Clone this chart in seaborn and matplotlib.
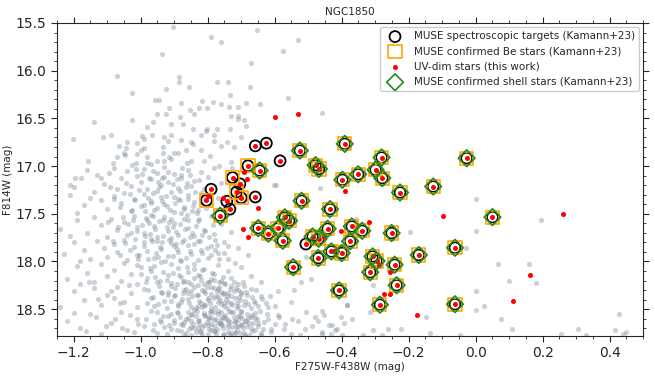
import matplotlib
matplotlib.use("Agg")
import matplotlib.pyplot as plt
import seaborn as sns
from matplotlib.ticker import MultipleLocator

# background cluster stars (F275W-F438W, F814W)
gray_color = [
    -0.905, -0.791, -0.761, -0.652, -0.532, -0.574, -0.937, -0.670, -1.070, -0.886,
    -0.887, -0.771, -0.738, -0.856, -0.926, -0.674, -1.027, -0.735, -0.560, -0.958,
    -0.945, -0.881, -0.816, -0.784, -0.761, -0.687, -0.644, -0.916, -0.854, -0.826,
    -0.801, -0.736, -0.711, -0.458, -0.952, -0.925, -0.841, -0.884, -0.731, -0.711,
    -0.710, -1.027, -1.139, -0.962, -0.910, -0.873, -0.692, -0.687, -0.982, -0.844,
    -0.801, -0.771, -0.735, -0.806, -1.090, -1.114, -0.965, -0.910, -0.930, -0.881,
    -0.821, -0.781, -0.701, -1.203, -0.995, -0.990, -1.040, -1.065, -1.010, -0.920,
    -0.851, -0.843, -0.781, -0.761, -0.741, -0.721, -1.045, -1.050, -1.000, -0.990,
    -0.935, -0.933, -0.890, -0.901, -0.866, -1.070, -1.047, -1.010, -0.980, -0.916,
    -0.910, -0.821, -0.793, -0.731, -1.156, -1.084, -1.027, -1.015, -0.982, -0.970,
    -0.950, -0.930, -0.861, -0.851, -0.811, -0.766, -0.729, -0.597, -1.212, -1.197,
    -1.179, -1.119, -1.095,
    # 17.0 - 17.25
    -1.16, -1.13, -1.08, -1.06, -1.04, -1.01, -0.99, -0.97, -0.95, -0.93,
    -0.92, -0.90, -0.88, -0.86, -0.84, -0.82, -0.80, -0.78, -0.76, -1.20,
    -1.11, -1.03, -0.98, -0.94, -0.89, -0.85, -0.81, -1.07,
    # 17.25 - 17.5
    -1.21, -1.17, -1.14, -1.12, -1.10, -1.08, -1.06, -1.05, -1.03, -1.02,
    -1.00, -0.99, -0.97, -0.96, -0.94, -0.93, -0.91, -0.90, -0.89, -0.87,
    -0.86, -0.84, -0.83, -0.82, -0.79, -0.77, -1.19, -1.15, -0.95, -0.88,
    # 17.5 - 17.75
    -1.24, -1.19, -1.16, -1.14, -1.12, -1.10, -1.09, -1.07, -1.05, -1.04,
    -1.02, -1.01, -0.99, -0.98, -0.96, -0.95, -0.93, -0.92, -0.90, -0.89,
    -0.87, -0.86, -0.84, -0.83, -0.81, -0.79, -0.78, -0.76, -0.73, -1.21,
    -0.97, -0.91,
    # 17.75 - 18.0
    -1.23, -1.20, -1.17, -1.15, -1.13, -1.11, -1.10, -1.08, -1.07, -1.05,
    -1.04, -1.02, -1.01, -0.99, -0.98, -0.96, -0.95, -0.94, -0.92, -0.91,
    -0.89, -0.88, -0.86, -0.85, -0.83, -0.82, -0.80, -0.79, -0.77, -0.75,
    -0.74, -0.71, -0.68, -1.18, -0.97, -0.90,
    # 18.0 - 18.25
    -1.22, -1.19, -1.16, -1.14, -1.12, -1.10, -1.08, -1.06, -1.05, -1.03,
    -1.01, -1.00, -0.98, -0.97, -0.95, -0.94, -0.92, -0.91, -0.89, -0.88,
    -0.86, -0.85, -0.84, -0.82, -0.81, -0.80, -0.78, -0.77, -0.76, -0.74,
    -0.73, -0.71, -0.70, -0.67, -0.64, -1.18, -0.96, -0.87, -0.83, -0.79,
    -0.75, -0.72,
    # 18.25 - 18.5
    -1.24, -1.20, -1.17, -1.14, -1.12, -1.10, -1.07, -1.05, -1.03, -1.01,
    -0.99, -0.97, -0.96, -0.94, -0.93, -0.91, -0.90, -0.89, -0.87, -0.86,
    -0.85, -0.84, -0.83, -0.82, -0.81, -0.80, -0.79, -0.78, -0.77, -0.76,
    -0.75, -0.74, -0.73, -0.72, -0.71, -0.70, -0.69, -0.67, -0.66, -0.64,
    -0.62, -0.59, -0.55, -0.81, -0.79, -0.77, -0.75, -0.73, -0.71, -0.83,
    -0.86, -0.88, -0.92, -0.98, -1.08,
    # 18.5 - 18.78
    -1.22, -1.18, -1.15, -1.12, -1.09, -1.06, -1.04, -1.01, -0.99, -0.97,
    -0.95, -0.94, -0.92, -0.91, -0.89, -0.88, -0.87, -0.86, -0.85, -0.84,
    -0.83, -0.82, -0.81, -0.80, -0.79, -0.78, -0.78, -0.77, -0.76, -0.75,
    -0.75, -0.74, -0.73, -0.72, -0.72, -0.71, -0.70, -0.69, -0.68, -0.67,
    -0.66, -0.65, -0.64, -0.62, -0.61, -0.59, -0.57, -0.55, -0.53, -0.51,
    -0.48, -0.46, -0.43, -0.40, -0.80, -0.79, -0.77, -0.76, -0.74, -0.73,
    -0.71, -0.70, -0.69, -0.67, -0.83, -0.85, -0.88, -0.90, -0.96, -1.02,
    # sparse, red side
    0.000, 0.194, 0.000, -0.196, -0.028, 0.067, 0.159, 0.098, 0.181, -0.308,
    0.000, -0.385, 0.000, 0.025, -0.148, -0.403, -0.368, -0.393, -0.458, -0.438,
    0.075, 0.107, -0.261, -0.222, -0.307, -0.415, -0.137, -0.047, -0.335, -0.279,
    -0.433, -0.458, 0.254, 0.305, 0.328, 0.416, 0.428, 0.441, 0.448, -0.316,
    -0.465, -0.358, -0.602, -0.507, -0.493, -0.522, -0.542, -0.383,
]
gray_mag = [
    15.54, 15.65, 15.70, 15.57, 15.68, 15.79, 15.82, 15.92, 16.06, 16.07,
    16.12, 16.12, 16.12, 16.17, 16.19, 16.17, 16.23, 16.25, 16.29, 16.31,
    16.31, 16.34, 16.32, 16.33, 16.35, 16.34, 16.35, 16.39, 16.41, 16.39,
    16.39, 16.38, 16.38, 16.44, 16.45, 16.45, 16.45, 16.49, 16.48, 16.47,
    16.51, 16.52, 16.54, 16.54, 16.56, 16.56, 16.52, 16.58, 16.59, 16.61,
    16.61, 16.61, 16.61, 16.63, 16.67, 16.70, 16.67, 16.67, 16.69, 16.73,
    16.67, 16.67, 16.69, 16.72, 16.68, 16.72, 16.75, 16.79, 16.76, 16.74,
    16.75, 16.77, 16.74, 16.79, 16.75, 16.80, 16.81, 16.86, 16.83, 16.81,
    16.80, 16.86, 16.86, 16.86, 16.83, 16.90, 16.88, 16.87, 16.90, 16.90,
    16.93, 16.83, 16.89, 16.96, 16.95, 16.97, 16.99, 16.97, 16.97, 16.98,
    16.95, 16.95, 16.97, 16.95, 16.95, 17.00, 17.02, 17.20, 17.20, 17.13,
    17.13, 17.13, 17.07,
    17.04, 17.09, 17.02, 17.12, 17.05, 17.10, 17.03, 17.14, 17.07, 17.01,
    17.17, 17.08, 17.12, 17.04, 17.16, 17.06, 17.11, 17.02, 17.18, 17.22,
    17.19, 17.21, 17.24, 17.20, 17.23, 17.21, 17.24, 17.24,
    17.30, 17.41, 17.27, 17.36, 17.45, 17.31, 17.39, 17.28, 17.47, 17.34,
    17.42, 17.29, 17.37, 17.46, 17.32, 17.40, 17.27, 17.48, 17.35, 17.43,
    17.30, 17.38, 17.46, 17.28, 17.41, 17.33, 17.49, 17.33, 17.26, 17.49,
    17.66, 17.57, 17.70, 17.53, 17.62, 17.74, 17.55, 17.67, 17.59, 17.72,
    17.52, 17.64, 17.70, 17.56, 17.63, 17.74, 17.53, 17.68, 17.60, 17.72,
    17.55, 17.65, 17.73, 17.58, 17.67, 17.52, 17.71, 17.61, 17.69, 17.73,
    17.51, 17.75,
    17.92, 17.80, 17.88, 17.97, 17.79, 17.86, 17.95, 17.82, 17.90, 17.77,
    17.98, 17.85, 17.93, 17.80, 17.89, 17.96, 17.78, 17.87, 17.94, 17.81,
    17.90, 17.99, 17.83, 17.92, 17.78, 17.88, 17.96, 17.84, 17.91, 17.80,
    17.97, 17.86, 17.93, 17.99, 17.76, 17.84,
    18.18, 18.05, 18.12, 18.22, 18.03, 18.15, 18.09, 18.20, 18.02, 18.13,
    18.24, 18.06, 18.17, 18.10, 18.21, 18.01, 18.14, 18.23, 18.07, 18.16,
    18.11, 18.24, 18.03, 18.19, 18.08, 18.22, 18.13, 18.04, 18.20, 18.10,
    18.17, 18.24, 18.06, 18.15, 18.22, 18.24, 18.05, 18.20, 18.14, 18.18,
    18.23, 18.02,
    18.48, 18.31, 18.40, 18.28, 18.46, 18.35, 18.27, 18.42, 18.33, 18.48,
    18.29, 18.38, 18.47, 18.32, 18.41, 18.26, 18.36, 18.45, 18.30, 18.39,
    18.48, 18.27, 18.35, 18.43, 18.31, 18.40, 18.49, 18.28, 18.37, 18.45,
    18.33, 18.42, 18.26, 18.38, 18.47, 18.32, 18.41, 18.29, 18.44, 18.36,
    18.48, 18.31, 18.42, 18.46, 18.34, 18.29, 18.44, 18.36, 18.30, 18.47,
    18.33, 18.42, 18.35, 18.44, 18.38,
    18.62, 18.70, 18.55, 18.76, 18.64, 18.53, 18.72, 18.60, 18.68, 18.52,
    18.75, 18.63, 18.57, 18.71, 18.54, 18.66, 18.77, 18.59, 18.69, 18.51,
    18.62, 18.74, 18.56, 18.67, 18.52, 18.61, 18.73, 18.55, 18.65, 18.76,
    18.58, 18.69, 18.53, 18.63, 18.74, 18.57, 18.67, 18.77, 18.59, 18.70,
    18.54, 18.64, 18.75, 18.60, 18.71, 18.56, 18.66, 18.76, 18.62, 18.71,
    18.58, 18.74, 18.67, 18.77, 18.58, 18.72, 18.64, 18.53, 18.61, 18.75,
    18.68, 18.52, 18.62, 18.58, 18.70, 18.56, 18.73, 18.61, 18.66, 18.74,
    17.34, 17.57, 17.68, 17.69, 17.86, 18.03, 18.03, 18.20, 18.23, 18.25,
    18.31, 18.46, 18.51, 18.47, 18.58, 18.58, 18.60, 18.64, 18.52, 18.67,
    18.60, 18.71, 18.71, 18.71, 18.72, 18.71, 18.75, 18.77, 18.77, 18.77,
    18.76, 18.76, 18.76, 18.71, 18.77, 18.72, 18.55, 18.76, 18.74, 18.53,
    17.23, 17.55, 17.20, 17.95, 18.18, 18.22, 18.30, 18.46,
]

# crowded main-sequence ridge, where the grey dots pile up
ridge_color = [
    -1.015, -0.995, -0.975, -0.962, -0.948, -0.931, -0.918, -0.905, -0.893, -0.878,
    -0.866, -0.852, -0.838, -0.826, -0.811, -1.032, -1.018, -1.005, -0.991, -0.978,
    -0.963, -0.951, -0.937, -0.924, -0.912, -0.897, -0.884, -0.871, -0.858, -0.843,
    -0.831, -0.818, -0.805, -0.792, -1.045, -1.061, -1.079, -1.093, -0.986, -0.944,
    -0.902, -0.861, -0.921, -0.969, -1.026, -0.882, -0.848, -0.937, -0.999, -0.879,
    -1.052, -1.038, -1.024, -1.011, -0.997, -0.983, -0.972, -0.958, -0.946, -0.934,
    -0.921, -0.909, -0.896, -0.884, -0.871, -0.859, -0.846, -0.834, -0.822, -0.809,
    -0.797, -0.784, -0.771, -1.046, -1.031, -1.017, -1.004, -0.991, -0.978, -0.966,
    -0.953, -0.941, -0.928, -0.916, -0.903, -0.891, -0.878, -0.866, -0.853, -0.841,
    -0.828, -0.816, -0.803, -0.791, -0.778, -0.765, -0.752, -0.738, -1.068, -1.083,
    -1.097, -1.061, -0.962, -0.915, -0.869, -0.825, -0.938, -0.896, -0.852, -0.987,
    -1.009, -0.947, -0.884, -0.817, -0.779, -0.905, -0.975, -1.028, -0.861, -0.933,
    -1.012, -0.998, -0.984, -0.971, -0.958, -0.946, -0.933, -0.921, -0.909, -0.897,
    -0.885, -0.874, -0.862, -0.851, -0.840, -0.829, -0.818, -0.807, -0.797, -0.786,
    -0.776, -0.765, -0.755, -0.744, -0.734, -0.723, -0.713, -0.702, -0.691, -0.680,
    -0.669, -0.657, -0.962, -0.949, -0.936, -0.923, -0.911, -0.899, -0.888, -0.876,
    -0.866, -0.856, -0.846, -0.836, -0.826, -0.817, -0.807, -0.798, -0.789, -0.779,
    -0.770, -0.760, -0.751, -0.742, -0.732, -0.722, -0.712, -0.703, -0.693, -0.683,
    -0.672, -0.662, -0.651, -0.639, -0.627, -0.613, -0.598, -0.842, -0.831, -0.812,
    -0.793, -0.781, -0.772, -0.763, -0.748, -0.738, -0.727, -0.717, -0.708, -0.696,
    -0.686, -0.823, -0.859, -0.875, -0.891, -0.903, -0.918, -0.942, -0.979, -1.036,
    -1.062, -1.089, -1.127, -1.153, -0.818, -0.785, -0.753, -0.741, -0.802, -0.767,
    -0.952, -0.941, -0.931, -0.921, -0.911, -0.902, -0.893, -0.884, -0.875, -0.866,
    -0.858, -0.850, -0.842, -0.834, -0.826, -0.818, -0.811, -0.803, -0.796, -0.789,
    -0.782, -0.775, -0.768, -0.761, -0.754, -0.747, -0.740, -0.733, -0.726, -0.719,
    -0.712, -0.705, -0.698, -0.691, -0.684, -0.676, -0.668, -0.660, -0.651, -0.642,
    -0.633, -0.623, -0.612, -0.600, -0.587, -0.572, -0.866, -0.857, -0.846, -0.836,
    -0.827, -0.817, -0.808, -0.799, -0.790, -0.781, -0.772, -0.764, -0.755, -0.746,
    -0.737, -0.729, -0.720, -0.711, -0.702, -0.694, -0.686, -0.677, -0.669, -0.660,
    -0.652, -0.643, -0.635, -0.797, -0.778, -0.758, -0.739, -0.721, -0.703, -0.683,
    -0.812, -0.832, -0.851, -0.872, -0.893, -0.915, -0.935, -0.962, -0.983, -1.008,
    -1.031, -1.055, -1.078, -1.104, -1.135, -1.162, -1.198, -0.548, -0.525, -0.506,
    -0.489, -0.472, -0.452, -0.419, -0.735, -0.716, -0.757, -0.776, -0.793, -0.823,
    -0.845, -0.697, -0.664,
]
ridge_mag = [
    17.03, 17.08, 17.12, 17.05, 17.17, 17.11, 17.06, 17.19, 17.14, 17.02,
    17.22, 17.09, 17.27, 17.15, 17.31, 17.29, 17.36, 17.25, 17.41, 17.33,
    17.28, 17.44, 17.37, 17.31, 17.46, 17.39, 17.26, 17.45, 17.34, 17.42,
    17.49, 17.37, 17.44, 17.29, 17.18, 17.43, 17.35, 17.22, 17.47, 17.22,
    17.32, 17.18, 17.42, 17.39, 17.46, 17.36, 17.47, 17.13, 17.17, 17.09,
    17.53, 17.61, 17.57, 17.68, 17.62, 17.54, 17.71, 17.66, 17.58, 17.73,
    17.64, 17.55, 17.69, 17.61, 17.77, 17.57, 17.70, 17.63, 17.79, 17.68,
    17.74, 17.62, 17.83, 17.81, 17.88, 17.76, 17.93, 17.84, 17.97, 17.79,
    17.91, 17.85, 17.99, 17.77, 17.94, 17.87, 17.80, 17.96, 17.89, 17.82,
    17.98, 17.91, 17.86, 17.93, 17.88, 17.97, 17.91, 17.84, 17.64, 17.78,
    17.59, 17.93, 17.52, 17.59, 17.66, 17.55, 17.80, 17.82, 17.74, 17.73,
    17.97, 17.95, 17.98, 17.72, 17.77, 17.64, 17.60, 17.70, 17.51, 17.56,
    18.04, 18.13, 18.21, 18.07, 18.16, 18.26, 18.11, 18.19, 18.03, 18.28,
    18.14, 18.22, 18.06, 18.31, 18.17, 18.25, 18.09, 18.33, 18.21, 18.12,
    18.36, 18.27, 18.16, 18.39, 18.29, 18.21, 18.43, 18.34, 18.26, 18.45,
    18.37, 18.30, 18.37, 18.45, 18.33, 18.49, 18.41, 18.35, 18.47, 18.39,
    18.29, 18.44, 18.36, 18.49, 18.41, 18.30, 18.46, 18.38, 18.27, 18.48,
    18.42, 18.32, 18.47, 18.36, 18.44, 18.31, 18.49, 18.40, 18.46, 18.35,
    18.49, 18.41, 18.47, 18.39, 18.44, 18.36, 18.47, 18.08, 18.35, 18.24,
    18.44, 18.19, 18.31, 18.40, 18.24, 18.33, 18.46, 18.28, 18.37, 18.21,
    18.32, 18.15, 18.22, 18.33, 18.24, 18.12, 18.32, 18.20, 18.30, 18.25,
    18.44, 18.31, 18.39, 18.21, 18.48, 18.38, 18.34, 18.49, 18.27, 18.22,
    18.53, 18.61, 18.69, 18.76, 18.55, 18.64, 18.72, 18.58, 18.67, 18.75,
    18.53, 18.62, 18.70, 18.57, 18.66, 18.77, 18.54, 18.63, 18.71, 18.58,
    18.68, 18.76, 18.52, 18.61, 18.70, 18.56, 18.65, 18.77, 18.53, 18.62,
    18.72, 18.57, 18.66, 18.75, 18.55, 18.64, 18.73, 18.59, 18.68, 18.77,
    18.63, 18.55, 18.74, 18.66, 18.58, 18.71, 18.60, 18.71, 18.55, 18.74,
    18.61, 18.69, 18.57, 18.76, 18.65, 18.53, 18.71, 18.64, 18.77, 18.60,
    18.52, 18.69, 18.76, 18.61, 18.53, 18.70, 18.62, 18.77, 18.56, 18.72,
    18.60, 18.52, 18.71, 18.60, 18.73, 18.58, 18.74, 18.58, 18.75, 18.68,
    18.67, 18.52, 18.77, 18.63, 18.53, 18.67, 18.57, 18.72, 18.60, 18.66,
    18.56, 18.70, 18.60, 18.68, 18.58, 18.73, 18.54, 18.60, 18.77, 18.53,
    18.68, 18.62, 18.56, 18.72, 18.63, 18.68, 18.67, 18.60, 18.53, 18.73,
    18.66, 18.59, 18.64,
]

# MUSE confirmed shell stars (Kamann+23)
shell_color = [
    -0.645, -0.525, -0.478, -0.468, -0.391, -0.398, -0.351, -0.281, -0.299, -0.279,
    -0.226, -0.127, -0.027, 0.050, -0.763, -0.649, -0.619, -0.590, -0.570, -0.557,
    -0.520, -0.435, -0.576, -0.487, -0.469, -0.442, -0.370, -0.339, -0.375, -0.470,
    -0.431, -0.400, -0.545, -0.408, -0.251, -0.170, -0.062, -0.308, -0.296, -0.315,
    -0.242, -0.236, -0.286, -0.062,
]
shell_mag = [
    17.047, 16.837, 16.990, 17.030, 16.767, 17.144, 17.086, 16.910, 17.039, 17.126,
    17.277, 17.214, 16.917, 17.535, 17.521, 17.650, 17.708, 17.652, 17.537, 17.573,
    17.364, 17.451, 17.783, 17.738, 17.762, 17.657, 17.633, 17.678, 17.788, 17.964,
    17.895, 17.911, 18.060, 18.303, 17.702, 17.932, 17.856, 17.947, 17.995, 18.113,
    18.034, 18.249, 18.453, 18.448,
]

# MUSE confirmed Be stars without shell features
be_color = [-0.680, -0.726, -0.714, -0.700, -0.804]
be_mag = [16.997, 17.120, 17.272, 17.332, 17.359]

# remaining MUSE spectroscopic targets
target_color = [-0.658, -0.625, -0.584, -0.790, -0.704, -0.658, -0.743, -0.734, -0.507]
target_mag = [16.788, 16.760, 16.945, 17.243, 17.186, 17.324, 17.369, 17.451, 17.817]

# UV-dim stars only found in this work
uvdim_color = [
    -0.600, -0.532, -0.693, -0.684, -0.799, -0.754, -0.651, -0.694, -0.679, -0.390,
    -0.453, -0.403, -0.423, -0.320, -0.099, -0.288, -0.256, -0.274, -0.257, -0.175,
    0.162, 0.111, 0.262,
]
uvdim_mag = [
    16.487, 16.453, 17.065, 17.136, 17.312, 17.338, 17.437, 17.657, 17.748, 17.256,
    17.739, 17.678, 17.895, 17.587, 17.518, 18.034, 18.115, 18.338, 18.338, 18.563,
    18.142, 18.411, 17.507,
]

bg_color = gray_color + ridge_color
bg_mag = gray_mag + ridge_mag
muse_color = shell_color + be_color + target_color
muse_mag = shell_mag + be_mag + target_mag
bes_color = shell_color + be_color
bes_mag = shell_mag + be_mag
red_color = muse_color + uvdim_color
red_mag = muse_mag + uvdim_mag

sns.set_style("ticks")
plt.rcParams["font.family"] = ["DejaVu Sans"]

fig = plt.figure(figsize=(6.55, 3.77), dpi=100)
ax = fig.add_axes([0.087, 0.109, 0.895, 0.830])

sns.scatterplot(x=bg_color, y=bg_mag, ax=ax, color="slategray", alpha=0.36,
                s=14, linewidth=0, zorder=1)
sns.scatterplot(x=muse_color, y=muse_mag, ax=ax, marker="o", s=62, facecolor="none",
                edgecolor="black", linewidth=1.3, zorder=2,
                label="MUSE spectroscopic targets (Kamann+23)")
sns.scatterplot(x=bes_color, y=bes_mag, ax=ax, marker="s", s=90, facecolor="none",
                edgecolor="orange", linewidth=1.2, zorder=3,
                label="MUSE confirmed Be stars (Kamann+23)")
sns.scatterplot(x=red_color, y=red_mag, ax=ax, color="red", s=13, linewidth=0,
                zorder=4, label="UV-dim stars (this work)")
sns.scatterplot(x=shell_color, y=shell_mag, ax=ax, marker="D", s=72, facecolor="none",
                edgecolor="forestgreen", linewidth=1.2, zorder=5,
                label="MUSE confirmed shell stars (Kamann+23)")

ax.set_xlim(-1.25, 0.5)
ax.set_ylim(18.78, 15.5)
ax.xaxis.set_major_locator(MultipleLocator(0.2))
ax.xaxis.set_minor_locator(MultipleLocator(0.05))
ax.yaxis.set_major_locator(MultipleLocator(0.5))
ax.yaxis.set_minor_locator(MultipleLocator(0.1))
ax.tick_params(which="both", direction="out", top=True, right=True, labelsize=10, pad=3)
ax.tick_params(which="major", length=4.5)
ax.tick_params(which="minor", length=2.5)

ax.set_xlabel("F275W-F438W (mag)", fontsize=7.5, labelpad=1)
ax.set_ylabel("F814W (mag)", fontsize=7.5, labelpad=2)
ax.set_title("NGC1850", fontsize=7.5, pad=6)

ax.legend(loc="upper right", fontsize=7.5, framealpha=1, edgecolor="#cccccc",
          handletextpad=0.8, borderaxespad=0.4)

fig.savefig("out.png", dpi=100)
